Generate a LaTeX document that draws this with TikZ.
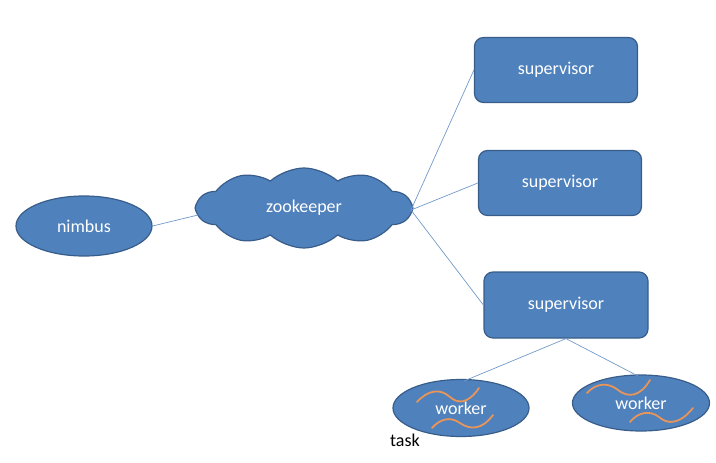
\documentclass[tikz,border=0pt]{standalone}
\usepackage{fontspec}
\setmainfont{Carlito}
\usetikzlibrary{shapes.geometric,shapes.symbols}
\definecolor{fillblue}{HTML}{4F81BD}
\definecolor{edgeblue}{HTML}{385D8A}
\definecolor{wave}{HTML}{E8955A}
\begin{document}
\begin{tikzpicture}[x=1pt,y=-1pt,
  blob/.style={fill=fillblue,draw=edgeblue,line width=1.2pt,text=white,font=\fontsize{18}{20}\selectfont},
  ell/.style={blob,ellipse,inner sep=0pt},
  supbox/.style={blob,rectangle,rounded corners=9pt,minimum width=163pt,minimum height=65pt},
  link/.style={draw=fillblue!80,line width=0.7pt},
  wv/.style={draw=wave,line width=1.8pt,line cap=round}]
\useasboundingbox (0,0) rectangle (716,463);
\node[ell,minimum width=136pt,minimum height=60pt] (nimbus) at (84,226) {nimbus};
\node[blob,cloud,cloud puffs=10,cloud puff arc=85,aspect=2.7,minimum width=214pt,minimum height=80pt,inner sep=0pt] (zk) at (304,208) {zookeeper};
\node[supbox] (s1) at (556,70) {supervisor};
\node[supbox] (s2) at (560,183) {supervisor};
\node[supbox,minimum width=164pt,minimum height=66pt] (s3) at (566,305) {supervisor};
\node[ell,minimum width=136pt,minimum height=57pt] (w1) at (461,408) {worker};
\node[ell,minimum width=137pt,minimum height=56pt] (w2) at (641,403) {worker};
\node[font=\fontsize{18}{20}\selectfont,text=black] (task) at (405,440) {task};
\coordinate (zkr) at (411,210);
\coordinate (zkl) at (198,215);
\coordinate (w1t) at (464,381);
\coordinate (w2t) at (638,376);
\draw[link] (nimbus.east) -- (zkl);
\draw[link] (zkr) -- (s1.west);
\draw[link] (zkr) -- (s2.west);
\draw[link] (zkr) -- (s3.west);
\draw[link] (s3.south) -- (w1t);
\draw[link] (s3.south) -- (w2t);
% waves
\draw[wv] (417,402) .. controls (428,390) and (440,388) .. (450,397) .. controls (458,404) and (468,404) .. (479,388);
\draw[wv] (432,428) .. controls (440,419) and (450,416) .. (460,423) .. controls (470,430) and (482,430) .. (493,415);
\draw[wv] (587,393) .. controls (596,383) and (608,382) .. (618,390) .. controls (628,398) and (640,397) .. (650,380);
\draw[wv] (630,422) .. controls (638,412) and (650,410) .. (659,417) .. controls (668,425) and (680,424) .. (693,408);
\end{tikzpicture}
\end{document}
